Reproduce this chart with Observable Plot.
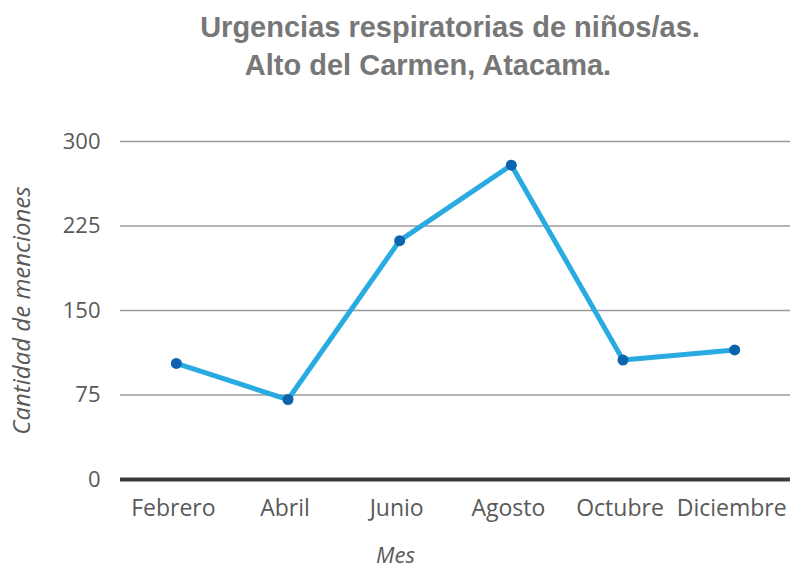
<!DOCTYPE html>
<html>
<head>
<meta charset="utf-8">
<script src="https://cdn.jsdelivr.net/npm/d3@7"></script>
<script src="https://cdn.jsdelivr.net/npm/@observablehq/plot@0.6"></script>
<style>
  body { margin: 0; background: #fff; }
  #wrap { width: 809px; height: 570px; position: relative; overflow: hidden; }
  .t { width: 809px; box-sizing: border-box; text-align: center; font-family: "Liberation Sans", Arial, sans-serif; font-weight: bold; font-size: 29px; color: #777777; line-height: 38px; white-space: nowrap; }
  #t1 { padding-left: 91px; }
  #t2 { padding-left: 47px; }
  #title { height: 100px; padding-top: 8px; box-sizing: border-box; }
  #chart svg { display: block; }
</style>
</head>
<body>
<div id="wrap">
  <div id="title">
    <div class="t" id="t1">Urgencias respiratorias de niños/as.</div>
    <div class="t" id="t2">Alto del Carmen, Atacama.</div>
  </div>
  <div id="chart"></div>
</div>
<script>
const months = ["Febrero", "Abril", "Junio", "Agosto", "Octubre", "Diciembre"];
const values = [103, 71, 212, 279, 106, 115];
const yTicks = [0, 75, 150, 225, 300];
const yLabel = "Cantidad de menciones";
const xLabel = "Mes";

const data = months.map((m, i) => ({mes: m, valor: values[i]}));

const chart = Plot.plot({
  width: 809,
  height: 470,
  marginTop: 41,
  marginBottom: 91,
  marginLeft: 120,
  marginRight: 19,
  style: {fontFamily: "'Open Sans', sans-serif", fontSize: "22px", color: "#595959", background: "#fff"},
  x: {type: "point", domain: months, padding: 0.5, round: false},
  y: {domain: [0, 300]},
  marks: [
    Plot.ruleY(yTicks.filter(d => d > 0), {stroke: "#9a9a9a", strokeWidth: 1.5, strokeOpacity: 1}),
    Plot.ruleY([0], {stroke: "#3a3a40", strokeWidth: 4, strokeOpacity: 1}),
    Plot.axisY({ticks: yTicks, tickSize: 0, tickPadding: 20, label: null, fontSize: 22}),
    Plot.axisX({tickSize: 0, tickPadding: 20, label: null, fontSize: 23, dx: -3}),
    Plot.line(data, {x: "mes", y: "valor", stroke: "#29abe2", strokeWidth: 5, strokeLinejoin: "round"}),
    Plot.dot(data, {x: "mes", y: "valor", r: 5.5, fill: "#0b64ad", stroke: "none"}),
    Plot.text([yLabel], {frameAnchor: "left", rotate: -90, dx: -98, fontStyle: "italic", fontSize: 24, fill: "#595959", textAnchor: "middle", lineAnchor: "middle"}),
    Plot.text([xLabel], {frameAnchor: "bottom", dx: -60, dy: 76, fontStyle: "italic", fontSize: 22, fill: "#595959", textAnchor: "middle", lineAnchor: "middle"})
  ]
});
document.getElementById("chart").appendChild(chart);
</script>
</body>
</html>
